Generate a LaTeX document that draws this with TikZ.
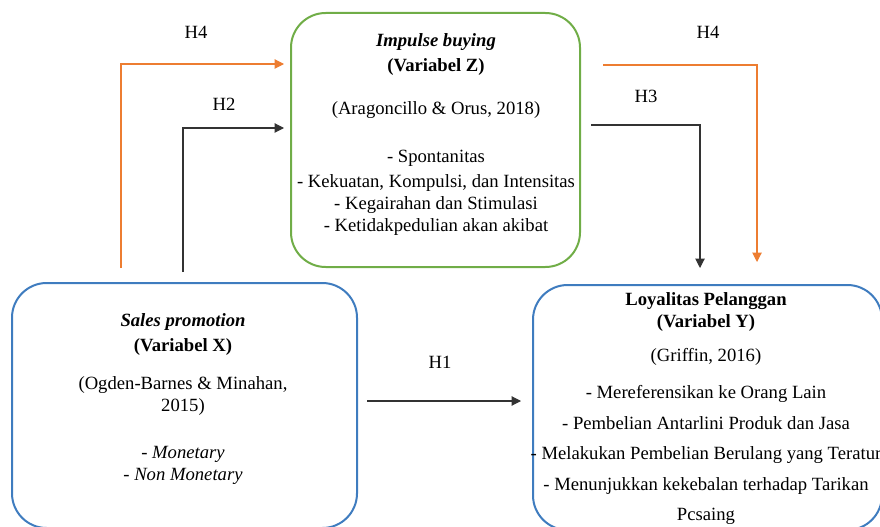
\documentclass[tikz,border=0pt]{standalone}
\usepackage{fontspec}
\setmainfont{Liberation Serif}
\usepackage{tikz}
\usetikzlibrary{arrows.meta,positioning,calc}
\definecolor{zgreen}{HTML}{70AD47}
\definecolor{xyblue}{HTML}{3F7CBF}
\definecolor{horange}{HTML}{ED7D31}
\tikzset{
  varbox/.style={draw,rounded corners=26pt,line width=1.5pt,inner sep=0pt},
  vartext/.style={align=center,inner sep=0pt,anchor=north,font=\fontsize{14}{16.5}\selectfont},
  hlabel/.style={inner sep=0pt,font=\fontsize{14}{16}\selectfont},
  harrow/.style={-{Triangle[length=7pt,width=7pt]},line width=.8pt,black!80},
  oarrow/.style={harrow,color=horange}
}

\begin{document}
\begin{tikzpicture}[x=.75pt,y=-.75pt]
  \useasboundingbox (0,0) rectangle (880,527);
  \clip (0,0) rectangle (880,527);
  \node[varbox,draw=zgreen,minimum width=216.75pt,minimum height=190.5pt] (zbox) at (435.5,140) {};
  \node[varbox,draw=xyblue,minimum width=258.75pt,minimum height=183.75pt] (xbox) at (184.5,405.5) {};
  \node[varbox,draw=xyblue,minimum width=261.75pt,minimum height=183.75pt] (ybox) at (707.5,407.5) {};
  \node[vartext] (ztext) at (436,33) {\textbf{\textit{Impulse buying}}\\[2.25pt]
    \textbf{(Variabel Z)}\\[15.75pt]
    (Aragoncillo \& Orus, 2018)\\[19.5pt]
    - Spontanitas\\[2.25pt]
    - Kekuatan, Kompulsi, dan Intensitas\\
    - Kegairahan dan Stimulasi\\
    - Ketidakpedulian akan akibat};
  \node[vartext] (xtext) at (183,313) {\textbf{\textit{Sales promotion}}\\[2.25pt]
    \textbf{(Variabel X)}\\[12pt]
    (Ogden-Barnes \& Minahan,\\
    2015)\\[18.75pt]
    \textit{- Monetary}\\
    - \textit{Non Monetary}};
  \node[vartext,font=\fontsize{14}{22.9}\selectfont] (ytext) at (706,292) {\textbf{Loyalitas Pelanggan}\\[-6pt]
    \textbf{(Variabel Y)}\\[2.25pt]
    (Griffin, 2016)\\[5.25pt]
    - Mereferensikan ke Orang Lain\\
    - Pembelian Antarlini Produk dan Jasa\\
    - Melakukan Pembelian Berulang yang Teratur\\
    - Menunjukkan kekebalan terhadap Tarikan\\
    Pcsaing};
  \coordinate (h4a) at (121,268);
  \coordinate (h4b) at (121,64);
  \coordinate (h2a) at (183,272);
  \coordinate (h2b) at (183,128);
  \coordinate (h3a) at (700,125);
  \coordinate (h4c) at (757,65);
  \draw[oarrow,shorten >=4.5pt] (h4a) -- (h4b) -- (h4b -| zbox.west);
  \draw[harrow,shorten >=4.5pt] (h2a) -- (h2b) -- (h2b -| zbox.west);
  \draw[harrow,shorten <=7.5pt,shorten >=12pt] (zbox.east |- h3a) -- (h3a) -- (h3a |- ybox.north);
  \draw[oarrow,shorten <=16.5pt,shorten >=16.5pt] (zbox.east |- h4c) -- (h4c) -- (h4c |- ybox.north);
  \draw[harrow,shorten <=6.75pt,shorten >=8.25pt] (xbox.east |- 0,401) -- (ybox.west |- 0,401);
  \node[hlabel] (h4l) at (196,32) {H4};
  \node[hlabel] (h2l) at (224,104) {H2};
  \node[hlabel] (h3l) at (646,96) {H3};
  \node[hlabel] (h4r) at (708,32) {H4};
  \node[hlabel] (h1l) at (440,362) {H1};
\end{tikzpicture}
\end{document}
